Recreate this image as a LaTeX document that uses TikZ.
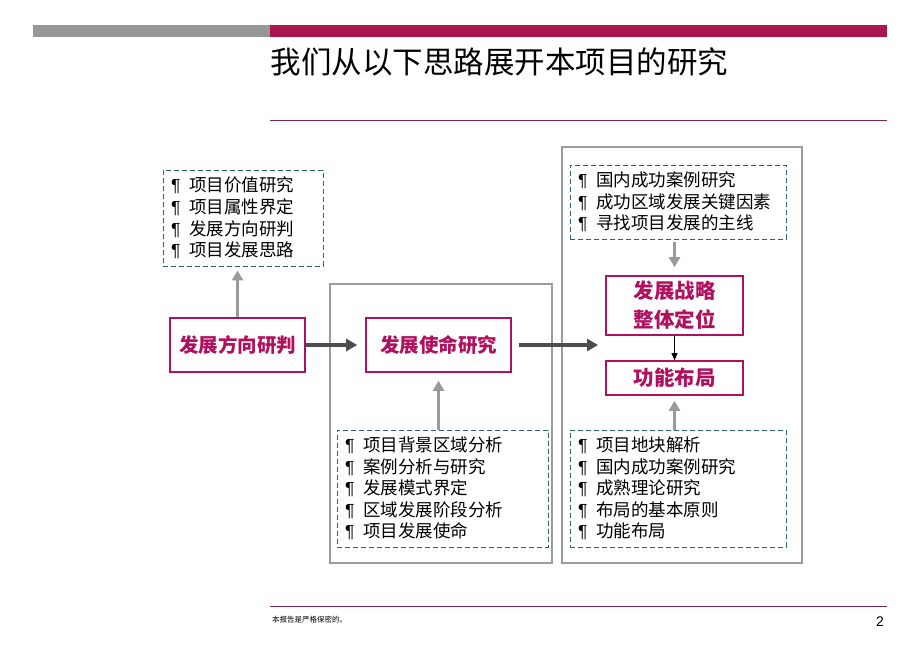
\documentclass[tikz,border=0pt]{standalone}
\usepackage{fontspec}
\setmainfont{Noto Sans CJK SC}
\newfontfamily\latinfont{Liberation Sans}
\usetikzlibrary{arrows.meta}

\definecolor{barred}{HTML}{A8154F}
\definecolor{bargray}{HTML}{979797}
\definecolor{rulered}{HTML}{7D2750}
\definecolor{nodered}{HTML}{B0105E}
\definecolor{dashblue}{HTML}{2F6279}
\definecolor{framegray}{HTML}{9C9C9C}
\definecolor{arrowgray}{HTML}{9A9A9A}
\definecolor{arrowdark}{HTML}{4D4D4D}

\newcommand{\itm}{{\latinfont ¶}\hspace{0.5em}}

\begin{document}
\begin{tikzpicture}[x=1pt, y=-1pt,
    keybox/.style={draw=nodered, line width=1.6pt, text=nodered,
        font=\fontsize{19.5}{24}\selectfont\bfseries, align=center, inner sep=0pt},
    listbox/.style={draw=dashblue, line width=0.9pt, dash pattern=on 5pt off 3pt,
        align=left, anchor=center, inner ysep=0pt, inner xsep=8pt,
        font=\fontsize{17.5}{21.6}\selectfont},
    grayarrow/.style={draw=arrowgray, line width=2.8pt,
        -{Triangle[length=10pt, width=11pt]}},
    darkarrow/.style={draw=arrowdark, line width=3.6pt,
        -{Triangle[length=11pt, width=12pt]}},
    frame/.style={draw=framegray, line width=2pt}]
    \useasboundingbox (0,0) rectangle (920,651);

    % Header bar, title and rules
    \fill[bargray] (33,25) rectangle (270,37);
    \fill[barred] (270,25) rectangle (887,37);
    \node[anchor=west, font=\fontsize{30.5}{34}\selectfont] (title) at (267,62)
        {我们从以下思路展开本项目的研究};
    \draw[rulered, line width=1pt] (270,120) -- (887,120);
    \draw[rulered, line width=1pt] (270,606) -- (887,606);

    % Outer frames
    \draw[frame] (330,284) rectangle (552,563);
    \draw[frame] (562,147) rectangle (802,563);

    % Main steps
    \node[keybox, minimum width=135pt, minimum height=54pt] (dir) at (237.5,345) {发展方向研判};
    \node[keybox, minimum width=145pt, minimum height=54pt] (mission) at (438.5,345) {发展使命研究};
    \node[keybox, minimum width=137pt, minimum height=59pt,
        font=\fontsize{20.5}{29}\selectfont\bfseries] (strategy) at (674.5,305.5) {发展战略\\整体定位};
    \node[keybox, minimum width=137pt, minimum height=34pt,
        font=\fontsize{20.5}{24}\selectfont\bfseries] (layout) at (674.5,378) {功能布局};
    \coordinate (dirend) at (598,345);

    % Lists of work items
    \node[listbox, text width=144pt, minimum height=96pt] (dirlist) at (243,218)
        {\itm 项目价值研究\\ \itm 项目属性界定\\ \itm 发展方向研判\\ \itm 项目发展思路};
    \node[listbox, text width=195pt, minimum height=117pt] (missionlist) at (442.5,488.5)
        {\itm 项目背景区域分析\\ \itm 案例分析与研究\\ \itm 发展模式界定\\ \itm 区域发展阶段分析\\ \itm 项目发展使命};
    \node[listbox, text width=200pt, minimum height=74pt] (caselist) at (678,202)
        {\itm 国内成功案例研究\\ \itm 成功区域发展关键因素\\ \itm 寻找项目发展的主线};
    \node[listbox, text width=200pt, minimum height=117pt] (layoutlist) at (678,488.5)
        {\itm 项目地块解析\\ \itm 国内成功案例研究\\ \itm 成熟理论研究\\ \itm 布局的基本原则\\ \itm 功能布局};

    % Connectors
    \draw[grayarrow, shorten >=4pt] (dir.north) -- (dirlist.south -| dir.north);
    \draw[grayarrow, shorten >=8pt] (missionlist.north -| mission.south) -- (mission.south);
    \draw[grayarrow, shorten <=3pt, shorten >=8pt] (caselist.south -| strategy.north) -- (strategy.north);
    \draw[grayarrow, shorten >=5pt] (layoutlist.north -| layout.south) -- (layout.south);
    \draw[-{Triangle[length=7pt, width=6pt]}, line width=0.8pt] (strategy.south) -- (layout.north);
    \draw[darkarrow, shorten >=8pt] (dir.east) -- (mission.west);
    \draw[darkarrow, shorten <=7pt] (mission.east) -- (dirend);

    % Footer
    \node[anchor=west, font=\fontsize{7.5}{9}\selectfont, inner sep=0pt] (note) at (272,620) {本报告是严格保密的。};
    \node[anchor=east, font=\latinfont\fontsize{14}{16}\selectfont, inner sep=0pt] (page) at (884,622) {2};
\end{tikzpicture}
\end{document}
